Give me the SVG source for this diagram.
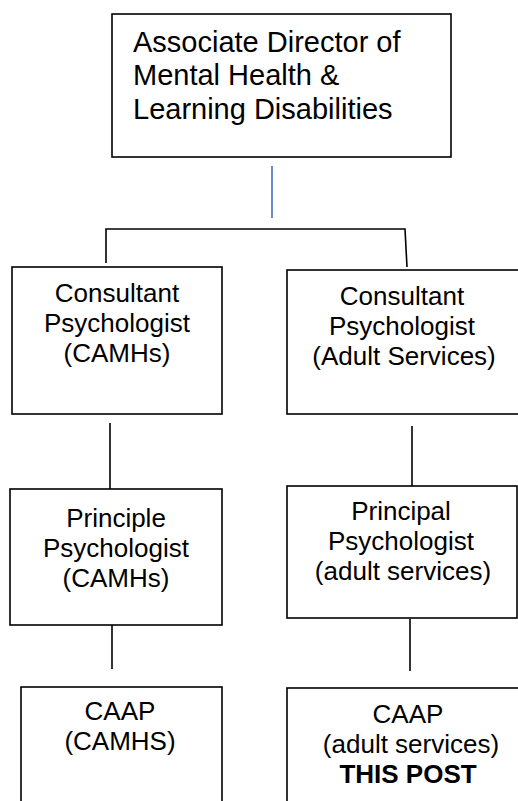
<svg xmlns="http://www.w3.org/2000/svg" width="518" height="801" viewBox="0 0 518 801">
<style>
.box{fill:#fff;stroke:#000;stroke-width:1.6}
.t{font-family:"Liberation Sans",Arial,sans-serif;font-size:26px;fill:#000;text-anchor:middle}
.big{font-family:"Liberation Sans",Arial,sans-serif;font-size:29px;fill:#000}
.b{font-weight:bold}
.ln{stroke:#000;stroke-width:1.6;fill:none}
</style>
<rect width="518" height="801" fill="#fff"/>
<g id="connectors">
<line x1="272" y1="166" x2="272" y2="218" stroke="#4472c4" stroke-width="1.6"/>
<polyline class="ln" points="106,263 106,229 405,229 407,267"/>
<line class="ln" x1="110" y1="423" x2="110" y2="489"/>
<line class="ln" x1="412" y1="426" x2="412" y2="486"/>
<line class="ln" x1="112" y1="625" x2="112" y2="669"/>
<line class="ln" x1="410" y1="619" x2="410" y2="671"/>
</g>
<g id="director">
<rect class="box" x="112" y="14" width="339" height="143"/>
<text class="big" x="133" y="52">Associate Director of</text>
<text class="big" x="133" y="85">Mental Health &amp;</text>
<text class="big" x="133" y="119">Learning Disabilities</text>
</g>
<g id="consultant-camhs">
<rect class="box" x="12" y="267" width="210" height="147"/>
<text class="t" x="117" y="302">Consultant</text>
<text class="t" x="117" y="332">Psychologist</text>
<text class="t" x="117" y="362">(CAMHs)</text>
</g>
<g id="consultant-adult">
<rect class="box" x="287" y="270" width="240" height="144"/>
<text class="t" x="402" y="305">Consultant</text>
<text class="t" x="402" y="335">Psychologist</text>
<text class="t" x="404" y="365">(Adult Services)</text>
</g>
<g id="principle-camhs">
<rect class="box" x="10" y="489" width="212" height="136"/>
<text class="t" x="116" y="527">Principle</text>
<text class="t" x="116" y="557">Psychologist</text>
<text class="t" x="116" y="587">(CAMHs)</text>
</g>
<g id="principal-adult">
<rect class="box" x="287" y="486" width="230" height="132"/>
<text class="t" x="401" y="520">Principal</text>
<text class="t" x="401" y="550">Psychologist</text>
<text class="t" x="403" y="580">(adult services)</text>
</g>
<g id="caap-camhs">
<rect class="box" x="21" y="687" width="201" height="130"/>
<text class="t" x="120" y="720">CAAP</text>
<text class="t" x="120" y="750">(CAMHS)</text>
</g>
<g id="caap-adult">
<rect class="box" x="287" y="688" width="240" height="130"/>
<text class="t" x="408" y="723">CAAP</text>
<text class="t" x="411" y="753">(adult services)</text>
<text class="t b" x="408" y="783">THIS POST</text>
</g>
</svg>
